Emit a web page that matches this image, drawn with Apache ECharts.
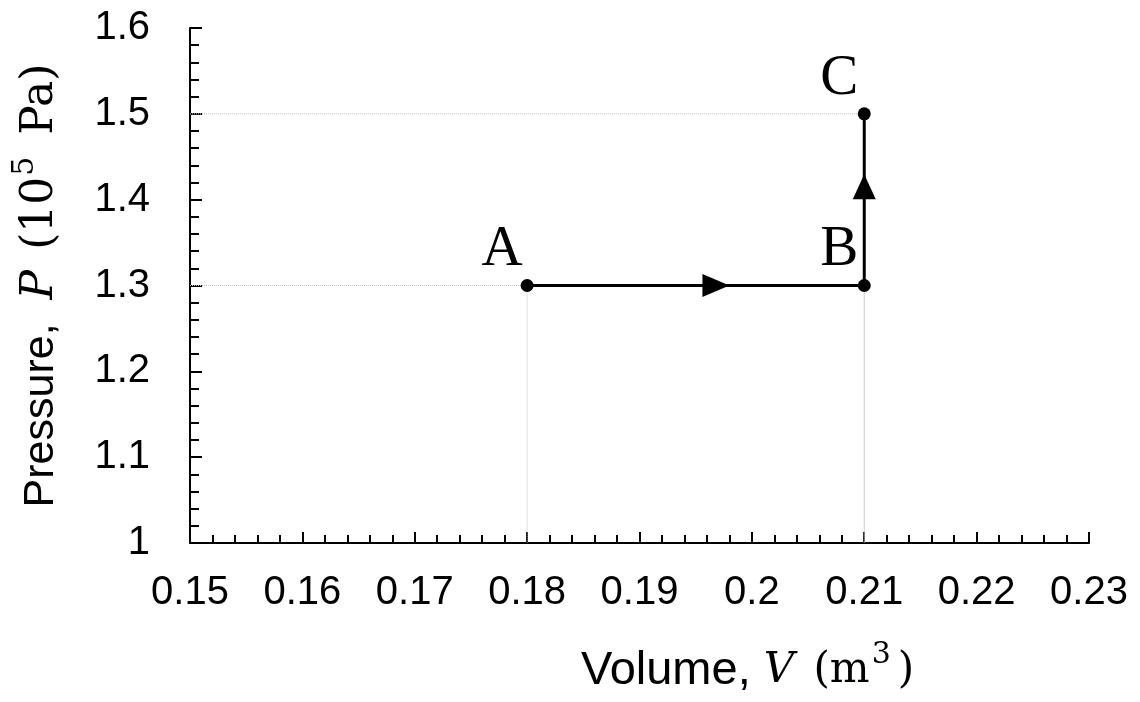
<!DOCTYPE html>
<html>
<head>
<meta charset="utf-8">
<script src="https://cdn.jsdelivr.net/npm/echarts@6/dist/echarts.min.js"></script>
<style>
html,body{margin:0;padding:0;background:#fff;}
#chart{width:1140px;height:702px;}
</style>
</head>
<body>
<div id="chart"></div>
<script>
// ---- data ----
const pointNames = ['A', 'B', 'C'];
const volumes = [0.18, 0.21, 0.21];      // m^3
const pressures = [1.3, 1.3, 1.5];       // 10^5 Pa
const arrowVolumes = [0.1968, 0.21];
const arrowPressures = [1.3, 1.415];
const arrowRotations = [-90, 0];
const xAxisMin = 0.15, xAxisMax = 0.23, xAxisStep = 0.01;
const yAxisMin = 1.0, yAxisMax = 1.6, yAxisStep = 0.1;

const pathData = volumes.map((v, i) => [v, pressures[i]]);
const guideSeries = pathData.map(p => ({
  type: 'line',
  data: [[xAxisMin, p[1]], [p[0], p[1]], [p[0], yAxisMin]],
  symbol: 'none',
  silent: true,
  z: 1,
  lineStyle: { color: '#c4c4c4', width: 1, type: 'dotted' }
}));

const chart = echarts.init(document.getElementById('chart'));
const sansFont = 'Liberation Sans';
const serifFont = 'DejaVu Serif';
const labelFont = 'Liberation Serif';

chart.setOption({
  animation: false,
  backgroundColor: '#ffffff',
  grid: { left: 190, right: 51, top: 28, bottom: 159, outerBoundsMode: 'none', containLabel: false },
  xAxis: {
    type: 'value',
    min: xAxisMin, max: xAxisMax, interval: xAxisStep,
    name: '{s|Volume, }{i|V}{r| (m}{sup|3}{r|)}',
    nameLocation: 'middle',
    nameGap: 103,
    nameTextStyle: {
      padding: [0, 0, 0, 216],
      rich: {
        s: { fontFamily: sansFont, fontSize: 47, color: '#000', lineHeight: 50 },
        i: { fontFamily: serifFont, fontStyle: 'italic', fontSize: 42, color: '#000', lineHeight: 50 },
        r: { fontFamily: serifFont, fontSize: 42, color: '#000', lineHeight: 50, padding: [0, 0, 0, 6] },
        sup: { fontFamily: serifFont, fontSize: 30, color: '#000', lineHeight: 18, padding: [0, 1, 32, 2] }
      }
    },
    axisLine: { show: true, onZero: false, lineStyle: { color: '#000', width: 2 } },
    axisTick: { show: true, inside: true, length: 11, lineStyle: { color: '#000', width: 2 } },
    minorTick: { show: true, splitNumber: 5, length: 8, lineStyle: { color: '#000', width: 2 } },
    splitLine: { show: false },
    axisLabel: {
      fontFamily: sansFont, fontSize: 40, color: '#000', margin: 30,
      formatter: v => String(parseFloat(v.toFixed(3)))
    }
  },
  yAxis: {
    type: 'value',
    min: yAxisMin, max: yAxisMax, interval: yAxisStep,
    name: '{s|Pressure, }{i|P}{r| (10}{sup|5}{r| Pa)}',
    nameLocation: 'middle',
    nameRotate: 90,
    nameGap: 124,
    nameTextStyle: {
      rich: {
        s: { fontFamily: sansFont, fontSize: 43, color: '#000', lineHeight: 50 },
        i: { fontFamily: serifFont, fontStyle: 'italic', fontSize: 44, color: '#000', lineHeight: 50, padding: [0, 0, 0, 12] },
        r: { fontFamily: serifFont, fontSize: 44, color: '#000', lineHeight: 50, padding: [0, 0, 0, 6] },
        sup: { fontFamily: serifFont, fontSize: 30, color: '#000', lineHeight: 18, padding: [0, 2, 32, 1] }
      }
    },
    axisLine: { show: true, onZero: false, lineStyle: { color: '#000', width: 2 } },
    axisTick: { show: true, inside: true, length: 12, lineStyle: { color: '#000', width: 2 } },
    minorTick: { show: true, splitNumber: 5, length: 9, lineStyle: { color: '#000', width: 2 } },
    splitLine: { show: false },
    axisLabel: {
      fontFamily: sansFont, fontSize: 40, color: '#000', margin: 40,
      formatter: v => String(parseFloat(v.toFixed(2)))
    }
  },
  series: [
    ...guideSeries,
    {
      type: 'line',
      data: pathData,
      symbol: 'none',
      z: 3,
      lineStyle: { color: '#000', width: 3 }
    },
    {
      type: 'scatter',
      data: arrowVolumes.map((v, i) => ({
        value: [v, arrowPressures[i]],
        symbolRotate: arrowRotations[i],
        symbolSize: arrowRotations[i] === 0 ? [23, 25] : [23, 27]
      })),
      symbol: 'triangle',
      z: 4,
      itemStyle: { color: '#000', opacity: 1 }
    },
    {
      type: 'scatter',
      data: pathData.map((p, i) => ({ value: p, name: pointNames[i] })),
      symbol: 'circle',
      symbolSize: 13,
      z: 5,
      itemStyle: { color: '#000', opacity: 1 },
      label: {
        show: true,
        position: 'inside',
        offset: [-25, -35],
        formatter: p => p.name,
        fontFamily: labelFont,
        fontSize: 57,
        color: '#000'
      }
    }
  ]
});
</script>
</body>
</html>
